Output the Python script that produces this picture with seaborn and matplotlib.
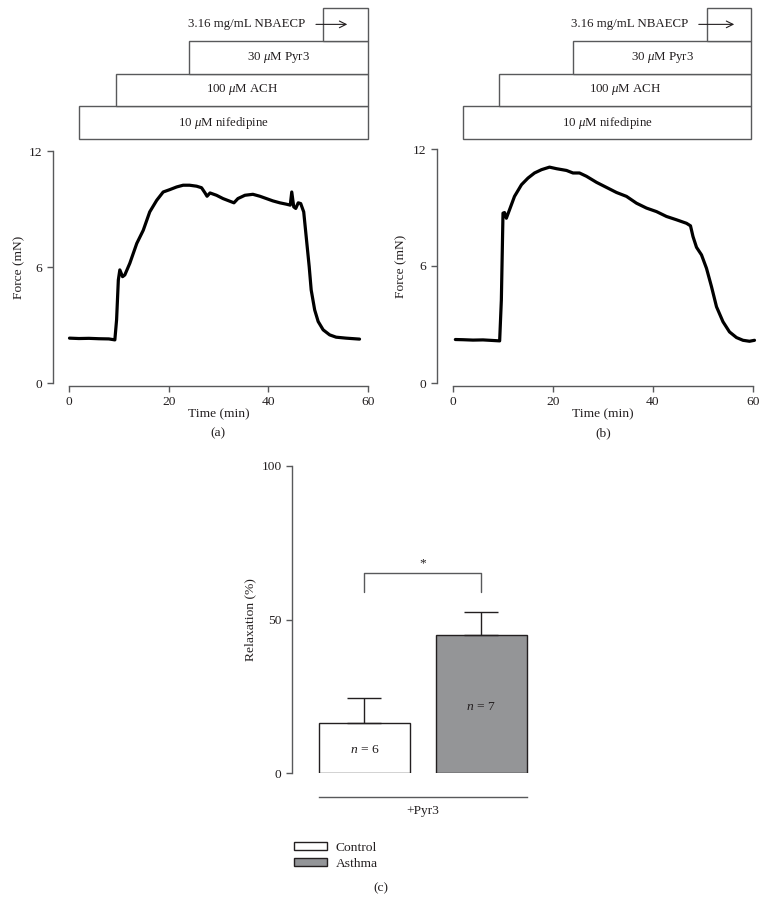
import numpy as np
import pandas as pd
import matplotlib
matplotlib.use("Agg")
import matplotlib.pyplot as plt
from matplotlib.patches import Patch
import seaborn as sns

# ---- trace (a): control tissue ----
time_a = [0.1, 2.0, 4.0, 6.0, 8.0, 9.2, 9.55, 9.9, 10.2, 10.75, 11.2, 12.2, 13.6, 14.9, 16.2,
          17.6, 18.9, 20.2, 21.6, 22.9, 24.2, 25.6, 26.6, 27.3, 27.7, 28.3, 29.6, 30.9, 32.3,
          33.1, 33.9, 35.3, 36.9, 38.3, 39.6, 40.9, 42.3, 43.6, 44.4, 44.7, 45.1, 45.5, 46.0,
          46.5, 47.1, 47.6, 48.2, 48.6, 49.3, 50.0, 51.0, 52.3, 53.6, 55.6, 58.3]
force_a = [2.32, 2.30, 2.31, 2.29, 2.28, 2.23, 3.27, 5.33, 5.85, 5.50, 5.59, 6.19, 7.22, 7.90, 8.85,
           9.45, 9.88, 10.00, 10.14, 10.23, 10.23, 10.18, 10.10, 9.83, 9.66, 9.83, 9.71, 9.54, 9.40,
           9.32, 9.54, 9.71, 9.76, 9.66, 9.54, 9.42, 9.32, 9.25, 9.20, 9.88, 9.11, 9.03, 9.32,
           9.28, 8.85, 7.56, 6.02, 4.81, 3.78, 3.18, 2.75, 2.49, 2.37, 2.32, 2.27]

# ---- trace (b): asthma tissue ----
time_b = [0.47, 2.0, 4.0, 6.0, 8.0, 9.33, 9.67, 10.0, 10.3, 10.67, 11.3, 12.3, 13.7, 15.0, 16.3,
          17.7, 19.3, 20.7, 22.7, 24.0, 25.3, 26.7, 28.7, 30.7, 32.7, 34.7, 36.7, 38.7, 40.7,
          42.7, 44.7, 46.7, 47.5, 48.0, 48.7, 49.7, 50.7, 51.7, 52.7, 54.0, 55.3, 56.7, 58.0,
          59.3, 60.3]
force_b = [2.23, 2.22, 2.20, 2.21, 2.18, 2.16, 4.25, 8.71, 8.74, 8.45, 8.88, 9.57, 10.17, 10.51, 10.77,
           10.94, 11.07, 10.99, 10.90, 10.77, 10.77, 10.60, 10.29, 10.03, 9.77, 9.57, 9.22, 8.97, 8.79,
           8.54, 8.37, 8.19, 8.06, 7.51, 6.96, 6.57, 5.88, 4.94, 3.91, 3.14, 2.62, 2.33, 2.19,
           2.14, 2.19]

# ---- drug application boxes (start times, min) ----
drug_labels = ["10 $\\mu$M nifedipine", "100 $\\mu$M ACH", "30 $\\mu$M Pyr3", "3.16 mg/mL NBAECP"]
drug_start_a = [2.0, 9.4, 24.0, 51.0]
drug_end_a = 60.0
drug_start_b = [2.0, 9.2, 24.0, 50.8]
drug_end_b = 59.6

# ---- panel (c): relaxation ----
groups = ["Control", "Asthma"]
relax_mean = [16.3, 45.0]
relax_sem = [8.1, 7.4]
n_labels = ["$n$ = 6", "$n$ = 7"]
n_label_y = [7.5, 21.5]
bar_colors = ["#ffffff", "#939598"]
sig_y, sig_leg = 65.0, 59.0

sns.set_theme(style="ticks")
plt.rcParams["font.family"] = ["Liberation Serif", "DejaVu Serif"]
plt.rcParams["mathtext.fontset"] = "custom"
plt.rcParams["mathtext.rm"] = "Liberation Serif"
plt.rcParams["mathtext.it"] = "Liberation Serif:italic"

TXT = "#231f20"
AX = "#58595b"
FS = 9.7

W, H = 767, 914
fig = plt.figure(figsize=(W / 100, H / 100), dpi=100)


def px_axes(x0, x1, ytop, ybot):
    return fig.add_axes([x0 / W, (H - ybot) / H, (x1 - x0) / W, (ybot - ytop) / H])


def style_trace(ax, ylabpad):
    sns.despine(ax=ax)
    for s in ("left", "bottom"):
        ax.spines[s].set_color(AX)
        ax.spines[s].set_linewidth(1.0)
    ax.spines["left"].set_position(("outward", 11.5))
    ax.spines["bottom"].set_position(("outward", 2))
    ax.spines["left"].set_bounds(0, 12)
    ax.spines["bottom"].set_bounds(0, 60)
    ax.set_xlim(0, 60)
    ax.set_ylim(0, 12)
    ax.set_xticks([0, 20, 40, 60])
    ax.set_yticks([0, 6, 12])
    ax.tick_params(colors=AX, labelcolor=TXT, labelsize=FS, length=4, width=1.0)
    ax.set_xlabel("Time (min)", fontsize=FS, color=TXT, labelpad=0)
    ax.set_ylabel("Force (mN)", fontsize=FS, color=TXT, labelpad=ylabpad)


def draw_boxes(ax, starts, end, text_end, arrow):
    ax.set_xlim(0, 60)
    ax.set_ylim(0, 4)
    ax.axis("off")
    ypos = [0.5, 1.5, 2.5, 3.5]
    bars = ax.barh(ypos, [end - s for s in starts], left=starts, height=1.0,
                   color="white", edgecolor=AX, linewidth=1.0)
    for b in bars:
        b.set_clip_on(False)
    for i in range(3):
        ax.text((starts[i] + end) / 2, ypos[i], drug_labels[i], ha="center", va="center",
                fontsize=9.3, color=TXT)
    ax.text(text_end, ypos[3], drug_labels[3], ha="right", va="center", fontsize=9.3, color=TXT)
    ax.annotate("", xy=(arrow[1], ypos[3]), xytext=(arrow[0], ypos[3]),
                arrowprops=dict(arrowstyle="->", color=TXT, lw=0.8))


# panel (a)
ax_a = px_axes(69, 368, 151, 383)
sns.lineplot(x=time_a, y=force_a, ax=ax_a, color="black", linewidth=2.3, estimator=None)
for ln in ax_a.lines:
    ln.set_clip_on(False)
style_trace(ax_a, 3)
box_a = px_axes(69, 368, 8, 139)
draw_boxes(box_a, drug_start_a, drug_end_a, 47.4, (49.0, 56.4))
fig.text(218 / W, (H - 433) / H, "(a)", ha="center", va="center", fontsize=FS, color=TXT)

# panel (b)
ax_b = px_axes(453, 753, 149, 383)
sns.lineplot(x=time_b, y=force_b, ax=ax_b, color="black", linewidth=2.3, estimator=None)
for ln in ax_b.lines:
    ln.set_clip_on(False)
style_trace(ax_b, 4)
box_b = px_axes(453, 753, 8, 139)
draw_boxes(box_b, drug_start_b, drug_end_b, 47.0, (48.6, 56.8))
fig.text(603 / W, (H - 433) / H, "(b)", ha="center", va="center", fontsize=FS, color=TXT)

# panel (c)
ax_c = px_axes(306, 539.5, 466, 773)
df = pd.DataFrame({"group": groups, "relax": relax_mean})
sns.barplot(data=df, x="group", y="relax", hue="group", palette=bar_colors, width=0.78,
            edgecolor=TXT, linewidth=1.0, legend=False, ax=ax_c, errorbar=None)
ax_c.errorbar([0, 1], relax_mean, yerr=[[0, 0], relax_sem], fmt="none", ecolor=TXT,
              elinewidth=1.0, capsize=12, capthick=1.0)
for i in range(2):
    ax_c.text(i, n_label_y[i], n_labels[i], ha="center", va="center", fontsize=FS, color=TXT)
ax_c.plot([0, 0, 1, 1], [sig_leg, sig_y, sig_y, sig_leg], color=AX, lw=1.0)
ax_c.text(0.5, sig_y + 1.5, "*", ha="center", va="bottom", fontsize=FS, color=TXT)
ax_c.set_xlim(-0.5, 1.5)
ax_c.set_ylim(0, 100)
sns.despine(ax=ax_c)
for s in ("left", "bottom"):
    ax_c.spines[s].set_color(AX)
    ax_c.spines[s].set_linewidth(1.0)
ax_c.spines["left"].set_position(("outward", 10))
ax_c.spines["left"].set_bounds(0, 100)
ax_c.spines["bottom"].set_position(("outward", 17.3))
ax_c.spines["bottom"].set_bounds(-0.39, 1.39)
ax_c.set_yticks([0, 50, 100])
ax_c.set_xticks([0.5])
ax_c.set_xticklabels(["+Pyr3"])
ax_c.tick_params(axis="y", colors=AX, labelcolor=TXT, labelsize=FS, length=4, width=1.0)
ax_c.tick_params(axis="x", length=0, labelsize=FS, labelcolor=TXT, pad=6)
ax_c.set_xlabel("")
ax_c.set_ylabel("Relaxation (%)", fontsize=FS, color=TXT, labelpad=4)

handles = [Patch(facecolor=c, edgecolor=TXT, linewidth=1.0) for c in bar_colors]
fig.legend(handles, groups, loc="center left", bbox_to_anchor=(287 / W, (H - 856) / H),
           frameon=False, fontsize=FS, handlelength=2.5, handleheight=0.55,
           handletextpad=0.6, labelspacing=0.3, borderpad=0, labelcolor=TXT)
fig.text(381 / W, (H - 888) / H, "(c)", ha="center", va="center", fontsize=FS, color=TXT)

fig.savefig("out.png", dpi=100)
